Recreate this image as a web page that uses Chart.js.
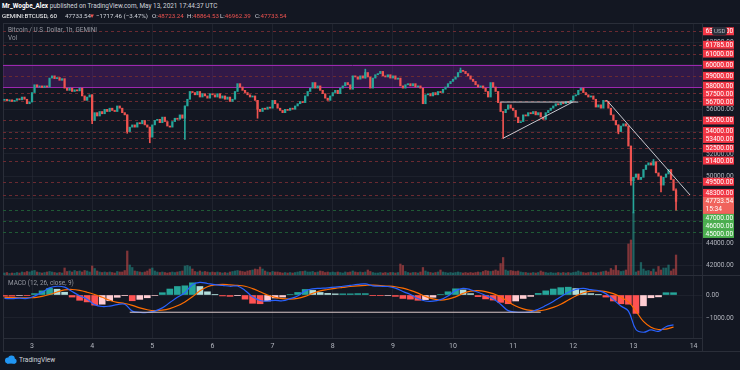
<!DOCTYPE html>
<html>
<head>
<meta charset="utf-8">
<title>BTCUSD 1h GEMINI</title>
<script src="https://cdn.jsdelivr.net/npm/chart.js@4.4.1/dist/chart.umd.min.js"></script>
<style>
  body { margin:0; width:740px; height:370px; background:#131722; overflow:hidden; position:relative;
         font-family: Roboto, "Liberation Sans", sans-serif; color:#d1d4dc; }
  .txt { position:absolute; white-space:nowrap; line-height:1; z-index:5; }
  #head1 { left:2px; top:3px; font-size:6.4px; }
  .h2 { position:absolute; top:13px; font-size:6.2px; white-space:nowrap; line-height:1; z-index:5; }
  .red { color:#ef5350; }
  .lbl { color:#9598a1; font-size:6.4px; }
  #frame { position:absolute; left:3px; top:23px; width:737px; height:329px; border:1px solid #2a2e39;
           border-right:none; box-sizing:border-box; }
  canvas { position:absolute; left:0; z-index:2; }
  #price { top:23px; }
  #macd { top:275px; }
  .hline { position:absolute; height:1px; background:#2a2e39; z-index:3; }
  .vline { position:absolute; width:1px; background:#2a2e39; z-index:3; }
  #usd { position:absolute; left:712px; top:27px; padding:1px 2px; background:#2a2e39; color:#b2b5be;
         font-size:6px; line-height:1; border-radius:2px; z-index:6; }
  #logo { position:absolute; left:4px; top:355px; z-index:5; display:flex; align-items:center; gap:2px; }
  #logo span { font-size:6.6px; color:#d1d4dc; }
</style>
</head>
<body>
<div id="frame"></div>
<div class="txt" id="head1"><b style="color:#fff">Mr_Wogbe_Alex</b> published on TradingView.com, May 13, 2021 17:44:37 UTC</div>
<span class="h2" style="left:2px;color:#fff">GEMINI:BTCUSD, 60</span>
<span class="h2" style="left:65px">47733.54</span>
<span class="h2 red" style="left:89px">▼</span>
<span class="h2" style="left:96px">−1717.46 (−3.47%)</span>
<span class="h2" style="left:152px">O:<span class="red">48723.24</span></span>
<span class="h2" style="left:187px">H:<span class="red">48864.53</span></span>
<span class="h2" style="left:220px">L:<span class="red">46962.39</span></span>
<span class="h2" style="left:255px">C:<span class="red">47733.54</span></span>
<div class="txt lbl" style="left:8px;top:27px">Bitcoin / U.S. Dollar, 1h, GEMINI</div>
<div class="txt lbl" style="left:8px;top:35px">Vol</div>
<div class="txt lbl" style="left:8px;top:280px">MACD (12, 26, close, 9)</div>
<div id="usd">USD</div>
<canvas id="price" width="740" height="252"></canvas>
<canvas id="macd" width="740" height="77"></canvas>
<div class="hline" style="left:3px;top:275px;width:737px"></div>
<div class="vline" style="left:702px;top:338px;height:14px"></div>
<div id="logo">
  <svg width="13" height="9" viewBox="0 0 13 9">
    <circle cx="4" cy="5.5" r="3" fill="#2196f3"/>
    <circle cx="7.5" cy="3.8" r="3.3" fill="#2196f3"/>
    <circle cx="10" cy="6" r="2.6" fill="#2196f3"/>
    <rect x="3" y="5" width="8" height="3.6" fill="#2196f3"/>
  </svg>
  <span>TradingView</span>
</div>
<script>
// hourly candles from May 2 13:00 UTC (hour -11) to May 13 17:00 UTC (hour 257); hour 0 = May 3 00:00
const firstHour = -11;
const firstOpen = 56800;
const closes = [
  56900, 56750, 56850, 56700, 56800, 56950, 56850, 57100, 56900, 56500, 56650,
  57500, 58200, 58000, 58100, 57950, 58100, 58000, 58800, 59000, 58750, 58850, 58600,
  58750, 57900, 57700, 57900, 57600, 57750, 57650, 57900, 57200, 56800, 57100, 57300,
  55000, 55700, 55400, 55800, 55600, 56000, 55800, 56100, 55900, 55800, 56300, 56100,
  55700, 55500, 54000, 54400, 54600, 54400, 54800, 54700, 55000, 54600, 54400, 53500,
  54600, 55000, 55100, 54800, 55300, 54900, 54500, 54400, 54900, 55200, 55100, 55500,
  55200, 56300, 56900, 57600, 57500, 57300, 57600, 57100, 57400, 57200, 57000, 57400,
  57300, 57100, 57400, 57000, 57200, 56900, 57100, 56700, 56900, 57600, 58300, 58000,
  57700, 57500, 57300, 57100, 57200, 56800, 56000, 55800, 56100, 56000, 56200, 56100,
  56800, 56500, 56100, 55900, 55700, 56000, 55900, 56100, 56000, 56300, 56500, 56700,
  56600, 57200, 57600, 57900, 58400, 57900, 58100, 57700, 57400, 57000, 56800, 57200,
  57500, 57700, 57400, 57900, 58100, 58400, 58200, 57800, 59000, 58900, 58700, 59000,
  58800, 59300, 58900, 57900, 58800, 59100, 59200, 59400, 59000, 58900, 59100, 58800,
  59000, 58700, 58800, 58100, 57900, 58200, 58300, 58100, 58300, 58000, 58100, 57900,
  56500, 57300, 57400, 57200, 57500, 57300, 57600, 57500, 57800, 58000, 58300, 58500,
  58700, 58900, 59300, 59500, 59400, 59200, 59000, 58700, 58500, 58200, 58000, 58100,
  57900, 57600, 57100, 58400, 58000, 57600, 56600, 55800, 55700, 56000, 56400, 56100,
  55900, 55300, 54800, 54900, 55500, 55400, 55700, 55600, 55800, 55500, 55700, 55300,
  55100, 55700, 55900, 56100, 56300, 56500, 56400, 56600, 56500, 56700, 56600, 56800,
  57200, 57300, 57700, 57900, 57500, 57300, 57100, 57200, 56900, 56200, 56400, 56100,
  56800, 56700, 56100, 55500, 55000, 54600, 54000, 54500, 54700, 54500, 52700, 49600,
  49900, 50200, 49700, 49900, 50600, 51000, 51200, 51000, 51300, 50300, 50000, 49200,
  49900, 50200, 50600, 49700, 48723.24, 47733.54,
];
// readable long wicks only: [hour, high, low]
const wicks = [
  [24, null, 54700], [38, null, 53850], [47, null, 53000], [61, null, 53300], [90, null, 55200],
  [133, 59600, null], [171, 59700, null], [188, null, 53400], [234, null, 53800], [239, null, 49200],
  [240, null, 46700], [248, 51500, null], [251, null, 48600], [257, 48864.53, 46962.39],
];
const volumes = [
  20, 25, 15, 20, 18, 25, 20, 30, 25, 35, 30,
  40, 45, 30, 25, 20, 25, 30, 35, 30, 25, 20, 25, 20, 70, 35, 40, 30, 45, 35, 40, 30, 45, 40, 30,
  90, 65, 40, 30, 25, 30, 25, 30, 25, 20, 35, 30, 30, 45, 240, 100, 75, 40, 35, 30, 25, 30, 40, 60,
  70, 40, 30, 25, 30, 25, 20, 25, 30, 25, 30, 35, 40, 90, 95, 85, 60, 35, 30, 40, 30, 35, 30, 25,
  30, 25, 30, 25, 20, 25, 20, 30, 35, 40, 45, 40, 35, 30, 40, 45, 50, 60, 55, 80, 60, 40, 30, 25,
  35, 30, 30, 25, 20, 25, 20, 25, 20, 25, 30, 35, 35, 40, 30, 30, 35, 25, 30, 40, 35, 25, 30, 25,
  30, 25, 30, 25, 20, 30, 25, 30, 40, 30, 25, 30, 25, 30, 50, 35, 25, 20, 20, 25, 20, 25, 20, 25,
  25, 20, 25, 110, 95, 35, 25, 20, 25, 25, 20, 30, 75, 40, 30, 25, 20, 25, 30, 50, 30, 25, 20, 25,
  20, 25, 30, 25, 20, 25, 20, 25, 20, 25, 30, 25, 35, 45, 40, 35, 40, 50, 40, 115, 175, 50, 40, 45,
  40, 35, 40, 30, 25, 25, 20, 20, 25, 20, 25, 40, 30, 25, 20, 25, 20, 20, 25, 20, 25, 20, 25, 20,
  25, 30, 40, 30, 25, 20, 25, 30, 25, 20, 25, 30, 35, 40, 30, 65, 50, 95, 45, 35, 40, 50, 310, 350,
  630, 30, 40, 125, 60, 40, 45, 35, 60, 30, 85, 50, 70, 70, 100, 40, 60, 200,
];
// MACD (12, 26, close, 9) read every 3 hours from hour -11
const macdFirstHour = -11;
const macdStep = 3;
const macdLine = [
  -150, -160, -140, -150, -50, 120, 310, 380, 340, 150,
  -30, -180, -420, -500, -480, -420, -400, -700, -750, -760,
  -700, -560, -330, -100, 100, 450, 550, 500, 450, 420,
  380, 390, 200, -80, -240, -260, -230, -250, -160, -40,
  180, 270, 290, 310, 340, 380, 420, 460, 480, 400,
  380, 370, 300, 150, 20, -150, -260, -270, -200, -40,
  190, 290, 230, 120, -20, -160, -400, -680, -740, -750,
  -730, -620, -460, -280, -80, 120, 240, 290, 230, 190,
  60, -200, -480, -700, -1500, -1620, -1520, -1580, -1380, -1300,
];
const signalLine = [
  -100, -110, -120, -120, -110, -60, 20, 130, 220, 240,
  200, 120, 20, -100, -230, -320, -370, -450, -560, -640,
  -680, -660, -590, -470, -300, -80, 180, 360, 440, 460,
  440, 420, 380, 280, 140, 0, -100, -160, -180, -150,
  -60, 70, 180, 240, 290, 330, 370, 400, 420, 430,
  410, 390, 360, 300, 200, 80, -60, -170, -220, -180,
  -80, 70, 170, 190, 150, 60, -80, -300, -480, -600,
  -670, -690, -640, -540, -400, -220, -40, 100, 170, 180,
  150, 60, -100, -300, -700, -1150, -1400, -1500, -1480, -1400,
];
const dayTicks = [0, 24, 48, 72, 96, 120, 144, 168, 192, 216, 240, 264];
const dayLabels = ['3', '4', '5', '6', '7', '8', '9', '10', '11', '12', '13', '14'];
const priceTicks = [42000, 44000, 46000, 48000, 50000, 52000, 54000, 56000, 58000, 60000, 62000];
const macdTicks = [0, -1000];

const redLevels = [63000, 61785, 61000, 60000, 59000, 58000, 57500, 56700, 55000, 54000, 53400, 52500, 51400, 49500, 48300];
const greenLevels = [47000, 46000, 45000];
const zone = [58000, 60000];
const lastPrice = 47733.54;
const countdown = '15:34';

const triangleTop = [[186.8, 56650], [218, 56650]];
const triangleBase = [[188, 53400], [216, 56680]];
const downTrend = [[229.3, 56830], [262.6, 48310]];
const macdLevel = [[39, -750], [203, -750]];

const xMin = -11.58, xMax = 267.36;
const UP = '#26a69a', DOWN = '#ef5350';
const FONT = 'Roboto, "Liberation Sans", sans-serif';

// candles
const bodies = [], bodyColors = [], vols = [], volColors = [];
let prev = firstOpen;
closes.forEach((c, i) => {
  const h = firstHour + i;
  const up = c >= prev;
  bodies.push({ x: h, y: [prev, c] });
  bodyColors.push(up ? UP : DOWN);
  vols.push({ x: h, y: volumes[i] });
  volColors.push(up ? 'rgba(38,166,154,0.5)' : 'rgba(239,83,80,0.5)');
  prev = c;
});
const wickBars = [], wickColors = [];
wicks.forEach(w => {
  const i = w[0] - firstHour;
  if (!bodies[i]) return;
  const o = bodies[i].y[0], c = bodies[i].y[1];
  const hi = w[1] !== null ? w[1] : Math.max(o, c);
  const lo = w[2] !== null ? w[2] : Math.min(o, c);
  wickBars.push({ x: w[0], y: [lo, hi] });
  wickColors.push(bodyColors[i]);
});
const pts = arr => arr.map(p => ({ x: p[0], y: p[1] }));
const noPad = s => { s.paddingTop = 0; s.paddingBottom = 0; s.paddingLeft = 0; s.paddingRight = 0; };

function placeLabels(items) {
  items.sort((a, b) => a.y - b.y);
  for (let it = 0; it < 80; it++) {
    for (let i = 0; i < items.length - 1; i++) {
      const a = items[i], b = items[i + 1];
      const overlap = (a.y + a.down) - (b.y - b.up);
      if (overlap > 0) {
        if (a.fixed) b.y += overlap;
        else if (b.fixed) a.y -= overlap;
        else { a.y -= overlap / 2; b.y += overlap / 2; }
      }
    }
  }
}

const levelPlugin = {
  id: 'levels',
  beforeDatasetsDraw(chart) {
    const { ctx, chartArea: a, scales: { y } } = chart;
    const py = v => Math.round(y.getPixelForValue(v)) + 0.5;
    ctx.save();
    ctx.fillStyle = 'rgba(123,31,162,0.30)';
    ctx.fillRect(a.left, py(zone[1]), a.right - a.left, py(zone[0]) - py(zone[1]));
    ctx.lineWidth = 1;
    ctx.setLineDash([3, 3]);
    const line = (v, col) => {
      ctx.strokeStyle = col;
      ctx.beginPath(); ctx.moveTo(a.left, py(v)); ctx.lineTo(a.right, py(v)); ctx.stroke();
    };
    redLevels.filter(v => !zone.includes(v)).forEach(v => line(v, '#6a2a31'));
    greenLevels.forEach(v => line(v, '#1f5a35'));
    ctx.setLineDash([]);
    zone.forEach(v => line(v, '#9c27b0'));
    ctx.restore();
  },
  afterDraw(chart) {
    const { ctx, chartArea: a, scales: { y } } = chart;
    const items = [];
    redLevels.forEach(v => items.push({ v, y: y.getPixelForValue(v), up: 4, down: 4, bg: '#f23645' }));
    greenLevels.forEach(v => items.push({ v, y: y.getPixelForValue(v), up: 4, down: 4, bg: '#4caf50' }));
    items.push({ v: lastPrice, y: y.getPixelForValue(lastPrice), up: 4.5, down: 12.5, bg: '#f0635c', fixed: true, sub: countdown });
    placeLabels(items);
    ctx.save();
    ctx.font = '6.6px ' + FONT;
    ctx.textBaseline = 'middle';
    const left = a.right + 1;
    items.forEach(it => {
      ctx.fillStyle = it.bg;
      ctx.fillRect(left, it.y - it.up, 31, it.up + it.down);
      ctx.fillStyle = '#ffffff';
      ctx.fillText(it.v.toFixed(2), left + 2.5, it.y + 0.3);
      if (it.sub) ctx.fillText(it.sub, left + 2.5, it.y + 8.3);
    });
    ctx.restore();
  }
};

Chart.defaults.font.family = FONT;

new Chart(document.getElementById('price'), {
  type: 'bar',
  data: {
    datasets: [
      { type: 'line', data: pts(triangleTop), borderColor: '#c9c9d0', borderWidth: 1, pointRadius: 0, order: 0 },
      { type: 'line', data: pts(triangleBase), borderColor: '#c9c9d0', borderWidth: 1, pointRadius: 0, order: 0 },
      { type: 'line', data: pts(downTrend), borderColor: '#c9c9d0', borderWidth: 1, pointRadius: 0, order: 0 },
      { data: bodies, backgroundColor: bodyColors, barThickness: 1.6, minBarLength: 1, grouped: false, order: 1 },
      { data: wickBars, backgroundColor: wickColors, barThickness: 1, grouped: false, order: 2 },
      { data: vols, backgroundColor: volColors, barThickness: 1.6, grouped: false, yAxisID: 'yv', order: 3 },
    ]
  },
  options: {
    responsive: false, animation: false, events: [],
    layout: { padding: { left: 3 } },
    plugins: { legend: { display: false }, tooltip: { enabled: false } },
    scales: {
      x: {
        type: 'linear', min: xMin, max: xMax, offset: false,
        afterBuildTicks: s => { s.ticks = dayTicks.map(v => ({ value: v })); },
        afterFit: s => { s.height = 0; noPad(s); },
        ticks: { display: false },
        grid: { color: 'rgba(42,46,57,0.55)', drawTicks: false, offset: false },
        border: { display: false }
      },
      y: {
        position: 'right', min: 41137, max: 63741,
        afterBuildTicks: s => { s.ticks = priceTicks.map(v => ({ value: v })); },
        afterFit: s => { s.width = 38; noPad(s); },
        ticks: { color: '#b2b5be', padding: 4, font: { size: 6.6 }, callback: v => v.toFixed(2) },
        grid: { color: 'rgba(42,46,57,0.45)', drawTicks: false },
        border: { display: true, color: '#2a2e39' }
      },
      yv: { display: false, min: 0, max: 2520 }
    }
  },
  plugins: [levelPlugin]
});

// MACD pane
const macdHours = macdLine.map((_, i) => macdFirstHour + i * macdStep);
const hist = macdLine.map((m, i) => m - signalLine[i]);
const histColors = hist.map((v, i) => {
  const p = i > 0 ? hist[i - 1] : v;
  if (v >= 0) return v >= p ? '#26a69a' : '#b2dfdb';
  return v <= p ? '#ff5252' : '#ffcdd2';
});

new Chart(document.getElementById('macd'), {
  type: 'bar',
  data: {
    datasets: [
      { type: 'line', data: pts(macdLevel), borderColor: '#d8c6c6', borderWidth: 1, pointRadius: 0, order: 0 },
      { type: 'line', data: macdHours.map((h, i) => ({ x: h, y: macdLine[i] })), borderColor: '#2962ff',
        borderWidth: 1.2, pointRadius: 0, tension: 0.4, order: 1 },
      { type: 'line', data: macdHours.map((h, i) => ({ x: h, y: signalLine[i] })), borderColor: '#ff6d00',
        borderWidth: 1.2, pointRadius: 0, tension: 0.4, order: 1 },
      { data: macdHours.map((h, i) => ({ x: h, y: hist[i] })), backgroundColor: histColors,
        barThickness: 6, grouped: false, order: 2 },
    ]
  },
  options: {
    responsive: false, animation: false, events: [],
    layout: { padding: { left: 3 } },
    plugins: { legend: { display: false }, tooltip: { enabled: false } },
    scales: {
      x: {
        type: 'linear', min: xMin, max: xMax, offset: false,
        afterBuildTicks: s => { s.ticks = dayTicks.map(v => ({ value: v })); },
        afterFit: s => { s.height = 14; noPad(s); },
        ticks: { color: '#b2b5be', padding: 4, font: { size: 7 }, maxRotation: 0,
                 callback: (v, i) => dayLabels[i] },
        grid: { color: 'rgba(42,46,57,0.55)', drawTicks: false, offset: false },
        border: { display: true, color: '#2a2e39' }
      },
      y: {
        position: 'right', min: -1870, max: 870,
        afterBuildTicks: s => { s.ticks = macdTicks.map(v => ({ value: v })); },
        afterFit: s => { s.width = 38; noPad(s); },
        ticks: { color: '#b2b5be', padding: 4, font: { size: 6.6 },
                 callback: v => (v < 0 ? '\u2212' + Math.abs(v).toFixed(2) : v.toFixed(2)) },
        grid: { color: 'rgba(42,46,57,0.45)', drawTicks: false },
        border: { display: true, color: '#2a2e39' }
      }
    }
  }
});
</script>
</body>
</html>
